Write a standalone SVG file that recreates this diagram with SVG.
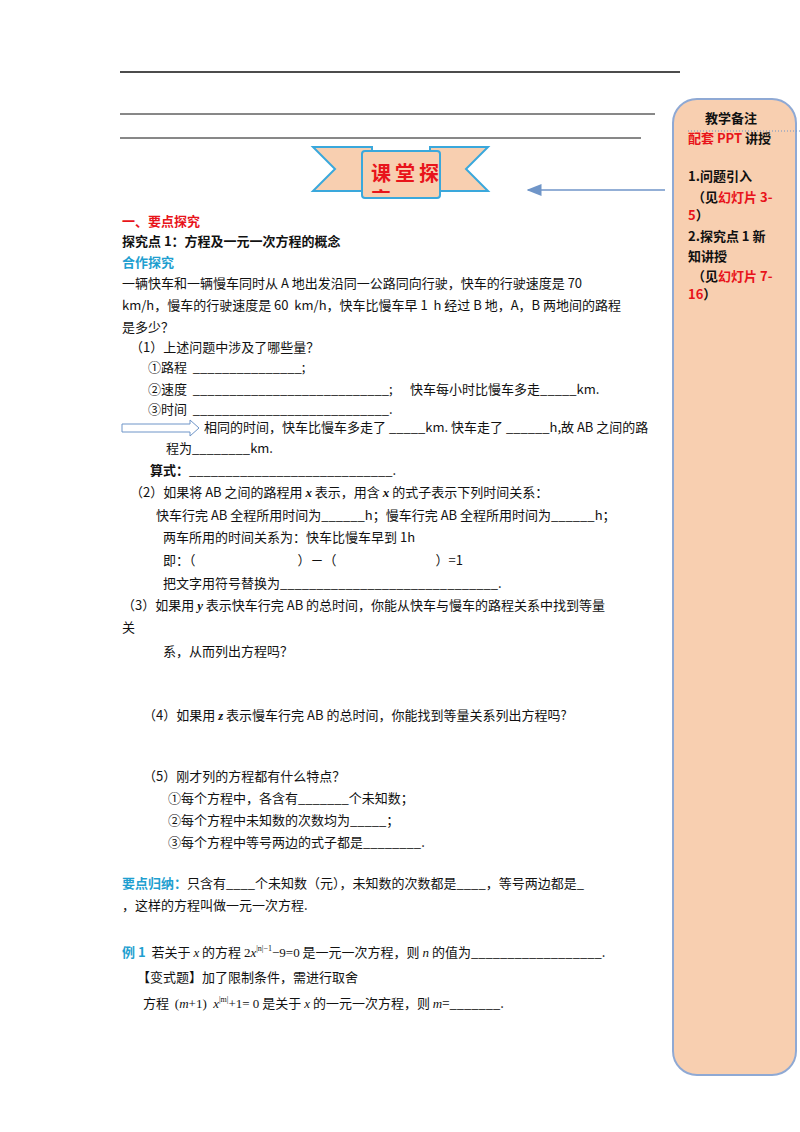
<svg xmlns="http://www.w3.org/2000/svg" width="800" height="1132" viewBox="0 0 800 1132" xml:space="preserve">
<style>
text{font-family:"Noto Sans CJK SC","Liberation Sans",sans-serif;font-size:13px;fill:#111;white-space:pre}
.b{font-weight:bold}
.r{fill:#e8141b}
.s{font-family:"Liberation Serif","Noto Sans CJK SC",serif;font-size:13px}
</style>
<defs>
<marker id="ah" markerWidth="10" markerHeight="8" refX="9" refY="4" orient="auto"><path d="M0,0 L10,4 L0,8 z" fill="#6f95c8"/></marker>
<clipPath id="bc"><rect x="363" y="152" width="76" height="41"/></clipPath>
</defs>
<rect width="800" height="1132" fill="#fff"/>
<g id="toplines">
<line x1="120" y1="72" x2="680" y2="72" stroke="#111" stroke-width="1.5"/>
<line x1="120" y1="114" x2="655" y2="114" stroke="#111"/>
<line x1="120" y1="138" x2="641" y2="138" stroke="#111"/>
</g>
<g id="sidebar">
<rect x="673" y="99" width="123" height="976" rx="24" fill="#f8cfb0" stroke="#8fa9d4" stroke-width="2"/>
<line x1="688" y1="131" x2="800" y2="131" stroke="#6f95c8" stroke-dasharray="1,2"/>
<text x="705" y="123" class="b">教学备注</text>
<text x="688" y="143" class="b"><tspan class="r">配套 PPT</tspan> 讲授</text>
<text x="688" y="181" class="b">1.问题引入</text>
<text x="692" y="202" class="b">（见<tspan class="r">幻灯片 3-</tspan></text>
<text x="688" y="220" class="b"><tspan class="r">5</tspan>）</text>
<text x="688" y="241" class="b">2.探究点 1 新</text>
<text x="688" y="261" class="b">知讲授</text>
<text x="692" y="281" class="b">（见<tspan class="r">幻灯片 7-</tspan></text>
<text x="688" y="299" class="b"><tspan class="r">16</tspan>）</text>
</g>
<g id="banner">
<path d="M313,147 L372,147 L372,191 L313,191 L335,169 Z" fill="#f8cfb0" stroke="#3aa8dc" stroke-width="2"/>
<path d="M488,147 L430,147 L430,191 L488,191 L466,169 Z" fill="#f8cfb0" stroke="#3aa8dc" stroke-width="2"/>
<rect x="362" y="151" width="78" height="47" rx="3" fill="#f8cfb0" stroke="#3aa8dc" stroke-width="2"/>
<g clip-path="url(#bc)">
<text x="371" y="181" class="b r" style="font-size:20px;letter-spacing:4px">课堂探</text>
<text x="371" y="207" class="b r" style="font-size:20px">究</text>
</g>
</g>
<g id="connectors">
<line x1="665" y1="190" x2="528" y2="190" stroke="#6f95c8" stroke-width="1.5" marker-end="url(#ah)"/>
<path d="M122,424 L190,424 L190,420 L199,428 L190,436 L190,432 L122,432 Z" fill="#fff" stroke="#6f95c8"/>
</g>
<g id="body">
<text x="122" y="226" class="b r">一、要点探究</text>
<text x="122" y="246" class="b">探究点 1：方程及一元一次方程的概念</text>
<text x="122" y="267" class="b" style="fill:#1f9fd0">合作探究</text>
<text x="122" y="288">一辆快车和一辆慢车同时从 A 地出发沿同一公路同向行驶，快车的行驶速度是 70</text>
<text x="122" y="310">km/h，慢车的行驶速度是 60  km/h，快车比慢车早 1  h 经过 B 地，A，B 两地间的路程</text>
<text x="122" y="332">是多少？</text>
<text x="130" y="352">（1）上述问题中涉及了哪些量？</text>
<text x="148" y="372">①路程  _______________;</text>
<text x="148" y="394">②速度  ___________________________;      快车每小时比慢车多走_____km.</text>
<text x="148" y="414">③时间  ___________________________.</text>
<text x="204" y="432">相同的时间，快车比慢车多走了 _____km. 快车走了 ______h,故 AB 之间的路</text>
<text x="166" y="453">程为________km.</text>
<text x="150" y="475" class="b">算式：<tspan style="font-weight:normal">____________________________.</tspan></text>
<text x="130" y="497">（2）如果将 AB 之间的路程用 <tspan class="s" font-style="italic" font-weight="bold">x</tspan> 表示，用含 <tspan class="s" font-style="italic" font-weight="bold">x</tspan> 的式子表示下列时间关系：</text>
<text x="156" y="520">快车行完 AB 全程所用时间为______h；慢车行完 AB 全程所用时间为______h；</text>
<text x="163" y="542">两车所用的时间关系为：快车比慢车早到 1h</text>
<text x="163" y="565">即：（                                   ）－（                                  ）=1</text>
<text x="163" y="588">把文字用符号替换为______________________________.</text>
<text x="122" y="610">（3）如果用 <tspan class="s" font-style="italic" font-weight="bold">y</tspan> 表示快车行完 AB 的总时间，你能从快车与慢车的路程关系中找到等量</text>
<text x="122" y="632">关</text>
<text x="163" y="656">系，从而列出方程吗？</text>
<text x="143" y="720">（4）如果用 <tspan class="s" font-style="italic" font-weight="bold">z</tspan> 表示慢车行完 AB 的总时间，你能找到等量关系列出方程吗?</text>
<text x="143" y="781">（5）刚才列的方程都有什么特点？</text>
<text x="168" y="803">①每个方程中，各含有_______个未知数；</text>
<text x="168" y="825">②每个方程中未知数的次数均为_____；</text>
<text x="168" y="847">③每个方程中等号两边的式子都是________.</text>
<text x="122" y="888"><tspan class="b" style="fill:#1f9fd0">要点归纳：</tspan>只含有____个未知数（元），未知数的次数都是____，等号两边都是_</text>
<text x="122" y="910">，这样的方程叫做一元一次方程.</text>
<text x="122" y="957"><tspan class="b" style="fill:#1f9fd0">例 1</tspan>  若关于 <tspan class="s" font-style="italic">x</tspan> 的方程 <tspan class="s">2<tspan font-style="italic">x</tspan><tspan font-size="8" dy="-6">|n|−1</tspan><tspan dy="6">−9=0</tspan></tspan> 是一元一次方程，则 <tspan class="s" font-style="italic">n</tspan> 的值为__________________.</text>
<text x="137" y="982">【变式题】加了限制条件，需进行取舍</text>
<text x="143" y="1008">方程  <tspan class="s">(<tspan font-style="italic">m</tspan>+1)  <tspan font-style="italic">x</tspan><tspan font-size="8" dy="-6">|m|</tspan><tspan dy="6">+1= 0</tspan></tspan> 是关于 <tspan class="s" font-style="italic">x</tspan> 的一元一次方程，则 <tspan class="s" font-style="italic">m</tspan>=<tspan>_______</tspan>.</text>
</g>
</svg>
